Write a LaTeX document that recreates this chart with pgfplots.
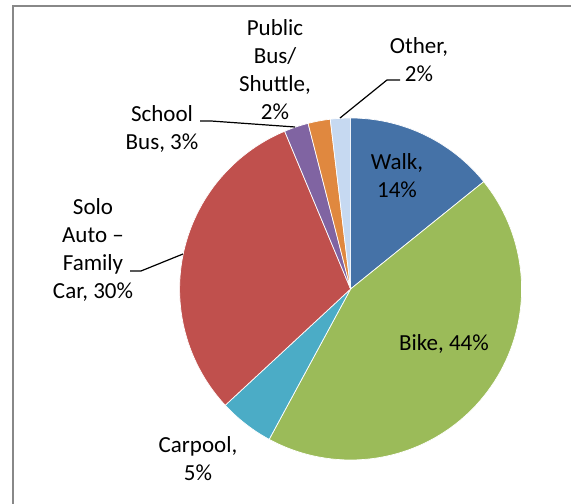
\documentclass[border=0pt]{standalone}
\usepackage{fontspec}
\setmainfont{Carlito}
\usepackage{pgfplots}
\usepackage{pgfplotstable}
\pgfplotsset{compat=1.18}
\definecolor{cWalk}{HTML}{4572A7}
\definecolor{cBike}{HTML}{9BBB59}
\definecolor{cCarpool}{HTML}{4BACC6}
\definecolor{cSolo}{HTML}{C0504D}
\definecolor{cSchool}{HTML}{8064A2}
\definecolor{cPublic}{HTML}{E0883F}
\definecolor{cOther}{HTML}{C6D9F1}
\definecolor{frame}{HTML}{888888}
\tikzset{lbl/.style={font=\fontsize{23bp}{28bp}\selectfont, align=center, text=black, inner sep=0pt}}
% share of trips, clockwise from 12 o'clock
\pgfplotstableread{
label value color
Walk 14.2 cWalk
Bike 43.7 cBike
Carpool 5.2 cCarpool
Solo 30.6 cSolo
School 2.3 cSchool
Public 2.1 cPublic
Other 1.9 cOther
}\piedata
\begin{document}
\begin{tikzpicture}
\useasboundingbox (0,0) rectangle (571bp,504bp);
\fill[frame] (12bp,0bp) rectangle (14bp,498.5bp);
\fill[frame] (12bp,496.5bp) rectangle (571bp,498.5bp);
\begin{axis}[at={(0,0)}, anchor=south west,
  width=571bp, height=504bp, scale only axis,
  xmin=0, xmax=571, ymin=0, ymax=504, hide axis, clip=false]
\pgfplotstablegetrowsof{\piedata}
\pgfmathtruncatemacro\N{\pgfplotsretval-1}
\def\cum{0}
\pgfplotsforeachungrouped \i in {0,...,\N}{%
  \pgfplotstablegetelem{\i}{value}\of\piedata \let\v\pgfplotsretval
  \pgfplotstablegetelem{\i}{color}\of\piedata \let\c\pgfplotsretval
  \pgfmathsetmacro\a{3.6*\cum}%
  \pgfmathsetmacro\b{3.6*(\cum+\v)}%
  \edef\temp{\noexpand\addplot[fill=\c, draw=white, line width=0.7bp, domain=\a:\b, samples=80]
    ({350.6+171*sin(x)},{215+171*cos(x)}) -- (axis cs:350.6,215) -- cycle;}%
  \temp
  \pgfmathsetmacro\cum{\cum+\v}%
}
% leader lines
\draw[black, line width=1.2bp] (axis cs:340,386) -- (axis cs:387,424) -- (axis cs:400,424);
\draw[black, line width=1.2bp] (axis cs:200,383) -- (axis cs:211,383) -- (axis cs:295,377);
\draw[black, line width=1.2bp] (axis cs:130,233) -- (axis cs:141,233) -- (axis cs:183,250);
% labels
\node[lbl] at (axis cs:397,328) {Walk,\\14\%};
\node[lbl] at (axis cs:444,160) {Bike, 44\%};
\node[lbl] at (axis cs:198,45) {Carpool,\\5\%};
\node[lbl] at (axis cs:93,254) {Solo\\Auto –\\Family\\Car, 30\%};
\node[lbl] at (axis cs:162,375) {School\\Bus, 3\%};
\node[lbl] at (axis cs:275,434) {Public\\Bus/\\Shuttle,\\2\%};
\node[lbl] at (axis cs:419,444) {Other,\\2\%};
\end{axis}
\end{tikzpicture}
\end{document}
